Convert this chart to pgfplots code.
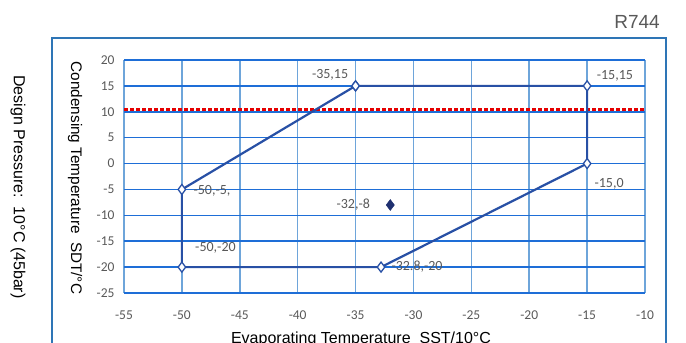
\documentclass[border=0pt]{standalone}
\usepackage{pgfplots}
\pgfplotsset{compat=1.18}
\usepackage{fontspec}
\setmainfont{Carlito}
\newfontfamily\arial{Liberation Sans}
\definecolor{frameblue}{RGB}{46,117,182}
\definecolor{gridv}{RGB}{110,165,218}
\definecolor{gridh}{RGB}{30,110,215}
\definecolor{lineblue}{RGB}{40,80,165}
\definecolor{navy}{RGB}{31,48,112}
\definecolor{txtgray}{RGB}{89,89,89}
\begin{document}
\begin{tikzpicture}[x=1pt,y=1pt]
\useasboundingbox (0,0) rectangle (686,343);
\begin{scope}
\clip (0,0) rectangle (686,343);
\draw[frameblue,line width=1.5pt] (52,-10) rectangle (666,305);
\node[text=txtgray,font=\arial\fontsize{19}{23}\selectfont] at (637,321) {R744};
\node[rotate=-90,font=\arial\fontsize{16}{19}\selectfont] at (18,156) {Design Pressure:\ \ 10°C (45bar)};
\node[rotate=-90,font=\arial\fontsize{15.3}{18}\selectfont] at (75,165) {Condensing Temperature\ \ SDT/°C};
\node[font=\arial\fontsize{16}{19}\selectfont,anchor=base] at (361,-0.5) {Evaporating Temperature\ \ SST/10°C};
\begin{axis}[
  at={(124pt,50pt)}, anchor=south west,
  scale only axis, width=521pt, height=233pt,
  xmin=-55, xmax=-10, ymin=-25, ymax=20,
  xtick={-55,-50,...,-10}, ytick={-25,-20,...,20},
  axis line style={draw=none},
  major tick length=0pt,
  xmajorgrids=true, ymajorgrids=true,
  major grid style={draw=gridh,line width=1.5pt},
  x grid style={draw=gridv,line width=1.6pt},
  y grid style={draw=gridh,line width=1.5pt},
  tick label style={text=txtgray,font=\fontsize{13.5}{15}\selectfont},
  /pgf/number format/assume math mode=true,
  xticklabel style={yshift=-14pt},
  yticklabel style={xshift=-6pt},
  clip=false,
]
\addplot[no marks, red!90!black, line width=3pt, dash pattern=on 3.5pt off 2.5pt] coordinates {(-55,10.5) (-10,10.5)};
\addplot[lineblue, line width=2.2pt, mark=diamond*, mark size=5pt,
  mark options={solid, fill=white, draw=lineblue, line width=1.3pt}] coordinates {
  (-35,15) (-15,15) (-15,0) (-32.8,-20) (-50,-20) (-50,-5) (-35,15)};
\addplot[only marks, mark=diamond*, mark size=5.5pt, navy, mark options={fill=navy}] coordinates {(-32,-8)};
\node[text=txtgray,font=\fontsize{14}{16}\selectfont] at (axis cs:-37.2,17.2) {-35,15};
\node[text=txtgray,font=\fontsize{14}{16}\selectfont] at (axis cs:-12.6,17.0) {-15,15};
\node[text=txtgray,font=\fontsize{14}{16}\selectfont] at (axis cs:-13.1,-3.9) {-15,0};
\node[text=txtgray,font=\fontsize{14}{16}\selectfont,anchor=west] at (axis cs:-32.2,-20) {-32.8,-20};
\node[text=txtgray,font=\fontsize{14}{16}\selectfont] at (axis cs:-47.1,-16.2) {-50,-20};
\node[text=txtgray,font=\fontsize{14}{16}\selectfont,anchor=west] at (axis cs:-49.3,-5.3) {-50,-5,};
\node[text=txtgray,font=\fontsize{14}{16}\selectfont] at (axis cs:-35.2,-8) {-32,-8};
\end{axis}
\end{scope}
\end{tikzpicture}
\end{document}
